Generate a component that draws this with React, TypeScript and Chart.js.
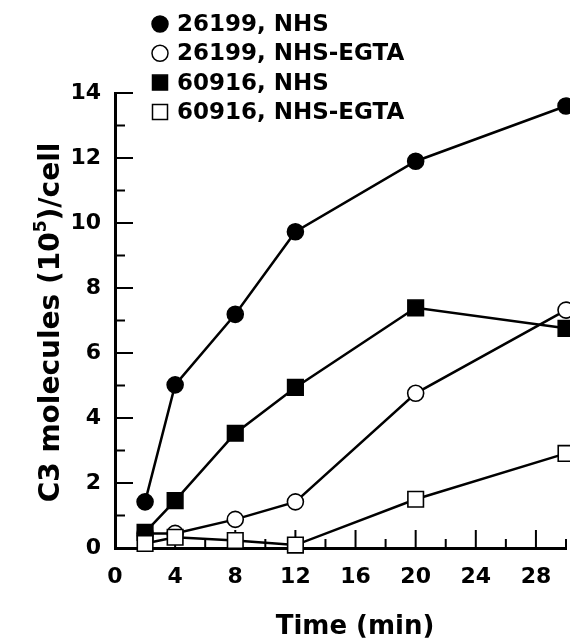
import React, { useEffect, useRef } from 'react';
import { Chart, registerables } from 'chart.js';

Chart.register(...registerables);

// ---- data ----
const timeMin = [2, 4, 8, 12, 20, 30];
const nhs26199 = [1.42, 5.02, 7.19, 9.73, 11.9, 13.6];
const egta26199 = [0.45, 0.45, 0.88, 1.42, 4.76, 7.32];
const nhs60916 = [0.48, 1.46, 3.53, 4.94, 7.39, 6.76];
const egta60916 = [0.14, 0.33, 0.23, 0.09, 1.5, 2.91];
const seriesLabels = ['26199, NHS', '26199, NHS-EGTA', '60916, NHS', '60916, NHS-EGTA'];
const xTickValues = [0, 4, 8, 12, 16, 20, 24, 28];
const yTickValues = [0, 2, 4, 6, 8, 10, 12, 14];
const xTitle = 'Time (min)';
const yTitleParts = ['C3 molecules (10', '5', ')/cell'];

const FONT = '"DejaVu Sans", "Liberation Sans", sans-serif';

const inwardTicks = {
  id: 'inwardTicks',
  beforeDatasetsDraw(chart: any) {
    const { ctx, chartArea, scales } = chart;
    const x = scales.x;
    const y = scales.y;
    ctx.save();
    ctx.strokeStyle = '#000';
    ctx.lineWidth = 2;
    ctx.beginPath();
    x.ticks.forEach((t: any) => {
      if (t.value === 0) return;
      const px = x.getPixelForValue(t.value);
      const len = t.value % 4 === 0 ? 18 : 9;
      ctx.moveTo(px, chartArea.bottom);
      ctx.lineTo(px, chartArea.bottom - len);
    });
    y.ticks.forEach((t: any) => {
      if (t.value === 0) return;
      const py = y.getPixelForValue(t.value);
      const len = t.value % 2 === 0 ? 18 : 10;
      ctx.moveTo(chartArea.left, py);
      ctx.lineTo(chartArea.left + len, py);
    });
    ctx.stroke();
    ctx.restore();
  },
};

const titlesAndLegend = {
  id: 'titlesAndLegend',
  afterDraw(chart: any) {
    const { ctx, chartArea } = chart;
    ctx.save();
    ctx.fillStyle = '#000';

    // x title
    ctx.font = `bold 26px ${FONT}`;
    ctx.textAlign = 'center';
    ctx.textBaseline = 'middle';
    ctx.fillText(xTitle, 355, 627);

    // y title with superscript
    const cy = (chartArea.top + chartArea.bottom) / 2 + 2;
    ctx.translate(59, cy);
    ctx.rotate(-Math.PI / 2);
    const big = `bold 28px ${FONT}`;
    const small = `bold 17px ${FONT}`;
    ctx.font = big;
    const w1 = ctx.measureText(yTitleParts[0]).width;
    const w3 = ctx.measureText(yTitleParts[2]).width;
    ctx.font = small;
    const w2 = ctx.measureText(yTitleParts[1]).width;
    const start = -(w1 + w2 + w3) / 2;
    ctx.textAlign = 'left';
    ctx.textBaseline = 'alphabetic';
    ctx.font = big;
    ctx.fillText(yTitleParts[0], start, 0);
    ctx.font = small;
    ctx.fillText(yTitleParts[1], start + w1, -13);
    ctx.font = big;
    ctx.fillText(yTitleParts[2], start + w1 + w2, 0);
    ctx.setTransform(1, 0, 0, 1, 0, 0);
    ctx.restore();

    // legend
    ctx.save();
    ctx.font = `bold 23px ${FONT}`;
    ctx.textAlign = 'left';
    ctx.textBaseline = 'middle';
    const lx = 160;
    chart.data.datasets.forEach((ds: any, i: number) => {
      const ly = 24 + i * 29.3;
      ctx.beginPath();
      if (ds.pointStyle === 'circle') {
        ctx.arc(lx, ly, 8, 0, Math.PI * 2);
      } else {
        ctx.rect(lx - 7.5, ly - 7.5, 15, 15);
      }
      ctx.fillStyle = ds.pointBackgroundColor;
      ctx.fill();
      ctx.lineWidth = 1.5;
      ctx.strokeStyle = '#000';
      ctx.stroke();
      ctx.fillStyle = '#000';
      ctx.fillText(ds.label, lx + 17, ly + 1);
    });
    ctx.restore();
  },
};

function makeDataset(label: string, data: number[], style: string, filled: boolean, order: number) {
  return {
    label,
    data: timeMin.map((t, i) => ({ x: t, y: data[i] })),
    borderColor: '#000',
    borderWidth: 2.5,
    pointStyle: style,
    pointRadius: style === 'circle' ? 8 : 11,
    pointBorderWidth: 1.6,
    pointBorderColor: '#000',
    pointBackgroundColor: filled ? '#000' : '#fff',
    tension: 0,
    clip: false,
    order,
  };
}

export default function App() {
  const ref = useRef<HTMLCanvasElement | null>(null);
  useEffect(() => {
    if (!ref.current) return;
    const chart = new Chart(ref.current, {
      type: 'line',
      data: {
        datasets: [
          makeDataset(seriesLabels[0], nhs26199, 'circle', true, 1),
          makeDataset(seriesLabels[1], egta26199, 'circle', false, 3),
          makeDataset(seriesLabels[2], nhs60916, 'rect', true, 2),
          makeDataset(seriesLabels[3], egta60916, 'rect', false, 0),
        ] as any,
      },
      options: {
        animation: false,
        responsive: false,
        devicePixelRatio: 1,
        layout: { autoPadding: false, padding: { top: 93, right: 4, left: 0, bottom: 0 } },
        plugins: { legend: { display: false }, tooltip: { enabled: false } },
        scales: {
          x: {
            type: 'linear',
            min: 0,
            max: 30,
            grid: { display: false, drawTicks: false },
            border: { display: true, color: '#000', width: 3 },
            ticks: {
              stepSize: 2,
              autoSkip: false,
              maxRotation: 0,
              padding: 16,
              color: '#000',
              font: { family: FONT, size: 22, weight: 'bold' },
              callback: (v: any) => (xTickValues.includes(Number(v)) ? String(v) : ''),
            },
            afterFit: (s: any) => {
              s.height = 93;
              s.paddingLeft = 0;
              s.paddingRight = 0;
            },
          },
          y: {
            type: 'linear',
            min: 0,
            max: 14,
            grid: { display: false, drawTicks: false },
            border: { display: true, color: '#000', width: 3 },
            ticks: {
              stepSize: 1,
              autoSkip: false,
              padding: 14,
              color: '#000',
              font: { family: FONT, size: 22, weight: 'bold' },
              callback: (v: any) => (yTickValues.includes(Number(v)) ? String(v) : ''),
            },
            afterFit: (s: any) => {
              s.width = 115;
              s.paddingTop = 0;
              s.paddingBottom = 0;
            },
          },
        },
      },
      plugins: [inwardTicks, titlesAndLegend],
    });
    return () => chart.destroy();
  }, []);
  return (
    <div style={{ position: 'absolute', left: 0, top: 0, width: 570, height: 641, background: '#fff' }}>
      <canvas ref={ref} width={570} height={641} style={{ display: 'block' }} />
    </div>
  );
}
